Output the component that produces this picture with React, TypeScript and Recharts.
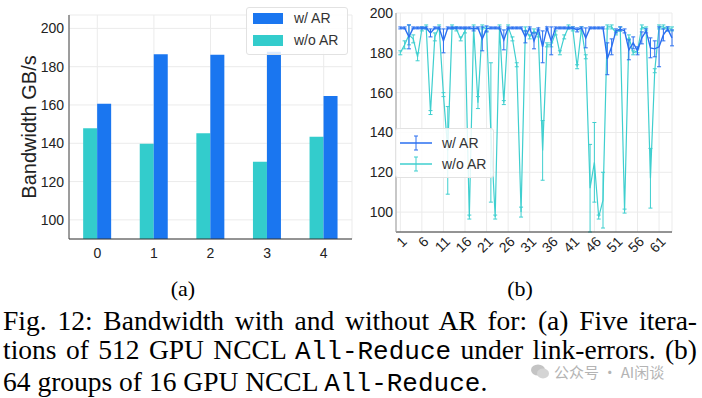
import React from "react";
import {
  BarChart, Bar, LineChart, Line, XAxis, YAxis, CartesianGrid, ErrorBar,
} from "recharts";

// (a) five iterations of 512 GPU All-Reduce
const iterations = ["0", "1", "2", "3", "4"];
const arBars = [160.6, 186.5, 186.2, 187.8, 164.7];
const noArBars = [147.9, 139.8, 145.3, 130.4, 143.4];
const barTicks = [100, 120, 140, 160, 180, 200];

// (b) 64 groups of 16 GPU All-Reduce
const groups = [
  1, 2, 3, 4, 5, 6, 7, 8, 9, 10, 11, 12, 13, 14, 15, 16,
  17, 18, 19, 20, 21, 22, 23, 24, 25, 26, 27, 28, 29, 30, 31, 32,
  33, 34, 35, 36, 37, 38, 39, 40, 41, 42, 43, 44, 45, 46, 47, 48,
  49, 50, 51, 52, 53, 54, 55, 56, 57, 58, 59, 60, 61, 62, 63, 64,
];
const arMean = [
  192.5, 192.5, 188, 192.5, 192.5, 192.5, 192.5, 190, 192.5, 192.5, 186, 192.5, 192.5, 192.5, 192.5, 192.5,
  192.5, 192, 192.5, 187, 192, 192.5, 192.5, 192.5, 186.5, 192.5, 192.5, 192.5, 192.5, 188, 192.5, 186,
  192, 183, 192.5, 186, 192.5, 192.5, 192.5, 192.5, 192.5, 191.5, 192.5, 187.5, 192.5, 192.5, 192.5, 192.5,
  177, 183, 191, 192, 191, 181.5, 185, 181, 187.5, 191, 182.5, 182, 183, 189, 192, 187.5,
];
const arErr = [
  0.5, 0.5, 6, 0.5, 0.5, 0.5, 0.5, 2, 0.5, 0.5, 6, 0.5, 0.5, 0.5, 0.5, 0.5,
  0.5, 1, 0.5, 6, 1.5, 0.5, 0.5, 0.5, 5, 0.5, 0.5, 0.5, 0.5, 3, 0.5, 4,
  0.5, 8, 0.5, 7, 0.5, 0.5, 0.5, 0.5, 0.5, 1, 0.5, 5, 0.5, 0.5, 0.5, 0.5,
  8, 4, 1, 1, 1, 5, 3, 2, 3, 1, 5, 4, 10, 3, 1, 4,
];
const noArMean = [
  180, 184, 189, 187, 178, 192, 193, 150, 188, 193, 159, 131, 193, 192, 187, 191,
  97.5, 193, 155, 193, 192, 140, 97.5, 193, 155, 193, 187, 174, 100, 192, 188, 191,
  189, 131, 184, 184, 190, 180, 188, 193, 192, 173, 192, 178, 112, 125, 97.5, 106,
  193, 193, 190, 192, 100.5, 188, 180, 181, 193, 192, 117, 171, 193, 193, 192, 192,
];
const noArErr = [
  1, 2, 5, 2, 2, 1, 1, 1, 2, 1, 1, 22, 1, 1, 1, 1,
  1, 1, 3, 1, 1, 35, 1, 1, 1, 1, 1, 1, 2.5, 1, 1, 1,
  1, 15, 1, 1, 1, 1, 1, 1, 1, 1, 1, 1, 22, 20, 1, 14,
  1, 1, 1, 1, 1, 1, 1, 1, 1, 1, 15, 1, 1, 1, 1, 1,
];
const groupTicks = [1, 6, 11, 16, 21, 26, 31, 36, 41, 46, 51, 56, 61];
const lineTicks = [100, 120, 140, 160, 180, 200];

const BLUE = "#1a76f0";
const CYAN = "#33cccc";
const LBLUE = "#2a6ff0";
const LCYAN = "#3fcfcf";
const SANS = "'Liberation Sans', Arial, sans-serif";
const SERIF = "'Liberation Serif', 'Times New Roman', serif";
const MONO = "'Liberation Mono', 'Courier New', monospace";

const barData = iterations.map((it, i) => ({ it, ar: arBars[i], noAr: noArBars[i] }));
const lineData = groups.map((g, i) => ({
  g, ar: arMean[i], arE: arErr[i], noAr: noArMean[i], noArE: noArErr[i],
}));

const tickStyle = { fill: "#222", fontSize: 14, fontFamily: SANS };

const RotTick = (props: any) => {
  const { x, y, payload } = props;
  const ax = x + 4;
  const ay = y + 5;
  return (
    <text x={ax} y={ay} transform={`rotate(-45 ${ax} ${ay})`} textAnchor="end"
      dominantBaseline="central" fill="#222" fontSize={14} fontFamily={SANS}>
      {payload.value}
    </text>
  );
};

const legendBox: React.CSSProperties = {
  position: "absolute", background: "rgba(255,255,255,0.85)",
  border: "1px solid #e2e2e2", borderRadius: 3, fontFamily: SANS,
  fontSize: 14, color: "#333",
};

const capLine: React.CSSProperties = { whiteSpace: "nowrap", textAlign: "justify", textAlignLast: "justify" };
const mono: React.CSSProperties = { fontFamily: MONO, fontSize: 26 };

export default function App() {
  return (
    <div style={{ position: "absolute", left: 0, top: 0, width: 702, height: 398, background: "#fff", overflow: "hidden" }}>
      {/* panel (a) */}
      <div style={{ position: "absolute", left: 0, top: 0 }}>
        <BarChart width={360} height={270} data={barData}
          margin={{ top: 15, right: 8, left: 19, bottom: 6 }}
          barCategoryGap="25%" barGap={0}>
          <CartesianGrid stroke="#ebebeb" strokeWidth={1} />
          <XAxis dataKey="it" height={25} tickLine={false} tickSize={0} tickMargin={9}
            axisLine={{ stroke: "#333" }} tick={tickStyle} />
          <XAxis xAxisId="top" dataKey="it" orientation="top" height={0} tick={false}
            tickLine={false} axisLine={{ stroke: "#333" }} />
          <YAxis width={50} domain={[90, 207]} ticks={barTicks} allowDataOverflow
            tickLine={false} tickSize={0} tickMargin={5} axisLine={{ stroke: "#444" }} tick={tickStyle}
            label={{
              content: () => (
                <text x={29} y={127} transform="rotate(-90 29 127)" textAnchor="middle"
                  dominantBaseline="central" fill="#222" fontSize={20} fontFamily={SANS}>
                  Bandwidth GB/s
                </text>
              ),
            }} />
          <YAxis yAxisId="right" orientation="right" width={0} domain={[90, 207]} tick={false}
            tickLine={false} axisLine={{ stroke: "#999" }} />
          <Bar dataKey="noAr" fill={CYAN} isAnimationActive={false} />
          <Bar dataKey="ar" fill={BLUE} isAnimationActive={false} />
        </BarChart>
        <div style={{ ...legendBox, left: 246, top: 7, width: 100, height: 46 }}>
          <div style={{ position: "absolute", left: 6, top: 5, width: 30, height: 11, background: BLUE }} />
          <div style={{ position: "absolute", left: 47, top: 2, lineHeight: "16px" }}>w/ AR</div>
          <div style={{ position: "absolute", left: 6, top: 27, width: 30, height: 11, background: CYAN }} />
          <div style={{ position: "absolute", left: 47, top: 24, lineHeight: "16px" }}>w/o AR</div>
        </div>
      </div>

      {/* panel (b) */}
      <div style={{ position: "absolute", left: 350, top: 0 }}>
        <LineChart width={352} height={270} data={lineData}
          margin={{ top: 13, right: 30, left: 6, bottom: 6 }}>
          <CartesianGrid stroke="#ebebeb" strokeWidth={1} />
          <XAxis dataKey="g" type="number" domain={[0, 64]} ticks={groupTicks} interval={0}
            height={32} tickLine={false} tickSize={0} axisLine={{ stroke: "#333" }} tick={<RotTick />} />
          <XAxis xAxisId="top" dataKey="g" type="number" domain={[0, 64]} orientation="top" height={0}
            tick={false} tickLine={false} axisLine={{ stroke: "#555" }} />
          <YAxis width={40} domain={[90, 200]} ticks={lineTicks} allowDataOverflow
            tickLine={false} tickSize={0} tickMargin={3} axisLine={{ stroke: "#999" }} tick={tickStyle} />
          <YAxis yAxisId="right" orientation="right" width={0} domain={[90, 200]} tick={false}
            tickLine={false} axisLine={{ stroke: "#333" }} />
          <Line dataKey="noAr" stroke={LCYAN} strokeWidth={1.2} dot={false} isAnimationActive={false}>
            <ErrorBar dataKey="noArE" width={2} stroke={LCYAN} strokeWidth={1} direction="y" isAnimationActive={false} />
          </Line>
          <Line dataKey="ar" stroke={LBLUE} strokeWidth={1.4} dot={false} isAnimationActive={false}>
            <ErrorBar dataKey="arE" width={2} stroke={LBLUE} strokeWidth={1} direction="y" isAnimationActive={false} />
          </Line>
        </LineChart>
        <div style={{ ...legendBox, left: 45, top: 128, width: 97, height: 48 }}>
          <svg width={40} height={48} style={{ position: "absolute", left: 0, top: 0 }}>
            <line x1={4} x2={36} y1={14} y2={14} stroke={LBLUE} strokeWidth={1.5} />
            <line x1={20} x2={20} y1={7} y2={21} stroke={LBLUE} strokeWidth={1} />
            <line x1={18} x2={22} y1={7} y2={7} stroke={LBLUE} strokeWidth={1} />
            <line x1={18} x2={22} y1={21} y2={21} stroke={LBLUE} strokeWidth={1} />
            <line x1={4} x2={36} y1={35} y2={35} stroke={LCYAN} strokeWidth={1.5} />
            <line x1={20} x2={20} y1={28} y2={42} stroke={LCYAN} strokeWidth={1} />
            <line x1={18} x2={22} y1={28} y2={28} stroke={LCYAN} strokeWidth={1} />
            <line x1={18} x2={22} y1={42} y2={42} stroke={LCYAN} strokeWidth={1} />
          </svg>
          <div style={{ position: "absolute", left: 46, top: 6, lineHeight: "16px" }}>w/ AR</div>
          <div style={{ position: "absolute", left: 46, top: 27, lineHeight: "16px" }}>w/o AR</div>
        </div>
      </div>

      {/* captions */}
      <div style={{ position: "absolute", left: 163, top: 277, width: 40, textAlign: "center", fontFamily: SERIF, fontSize: 22, lineHeight: "24px", color: "#000" }}>(a)</div>
      <div style={{ position: "absolute", left: 500, top: 277, width: 40, textAlign: "center", fontFamily: SERIF, fontSize: 22, lineHeight: "24px", color: "#000" }}>(b)</div>
      <div style={{ position: "absolute", left: 3, top: 306, width: 694, fontFamily: SERIF, fontSize: 27.5, lineHeight: "29px", color: "#000" }}>
        <div style={capLine}>
          Fig. 12: Bandwidth with and without AR for: (a) Five itera-
        </div>
        <div style={capLine}>
          tions of 512 GPU NCCL <span style={mono}>All-Reduce</span> under link-errors. (b)
        </div>
        <div style={{ whiteSpace: "nowrap" }}>
          64 groups of 16 GPU NCCL <span style={mono}>All-Reduce</span>.
        </div>
      </div>
      <div style={{ position: "absolute", left: 530, top: 364, fontFamily: "'Noto Sans CJK SC', sans-serif", fontSize: 15, lineHeight: "15px", color: "#b4b4b4", display: "flex", alignItems: "center", gap: 4 }}>
        <svg width={20} height={15}>
          <ellipse cx={8} cy={6} rx={7} ry={5.5} fill="#c4c4c4" />
          <ellipse cx={13} cy={9.5} rx={6} ry={5} fill="#d4d4d4" />
        </svg>
        <span>公众号 · AI闲谈</span>
      </div>
    </div>
  );
}
